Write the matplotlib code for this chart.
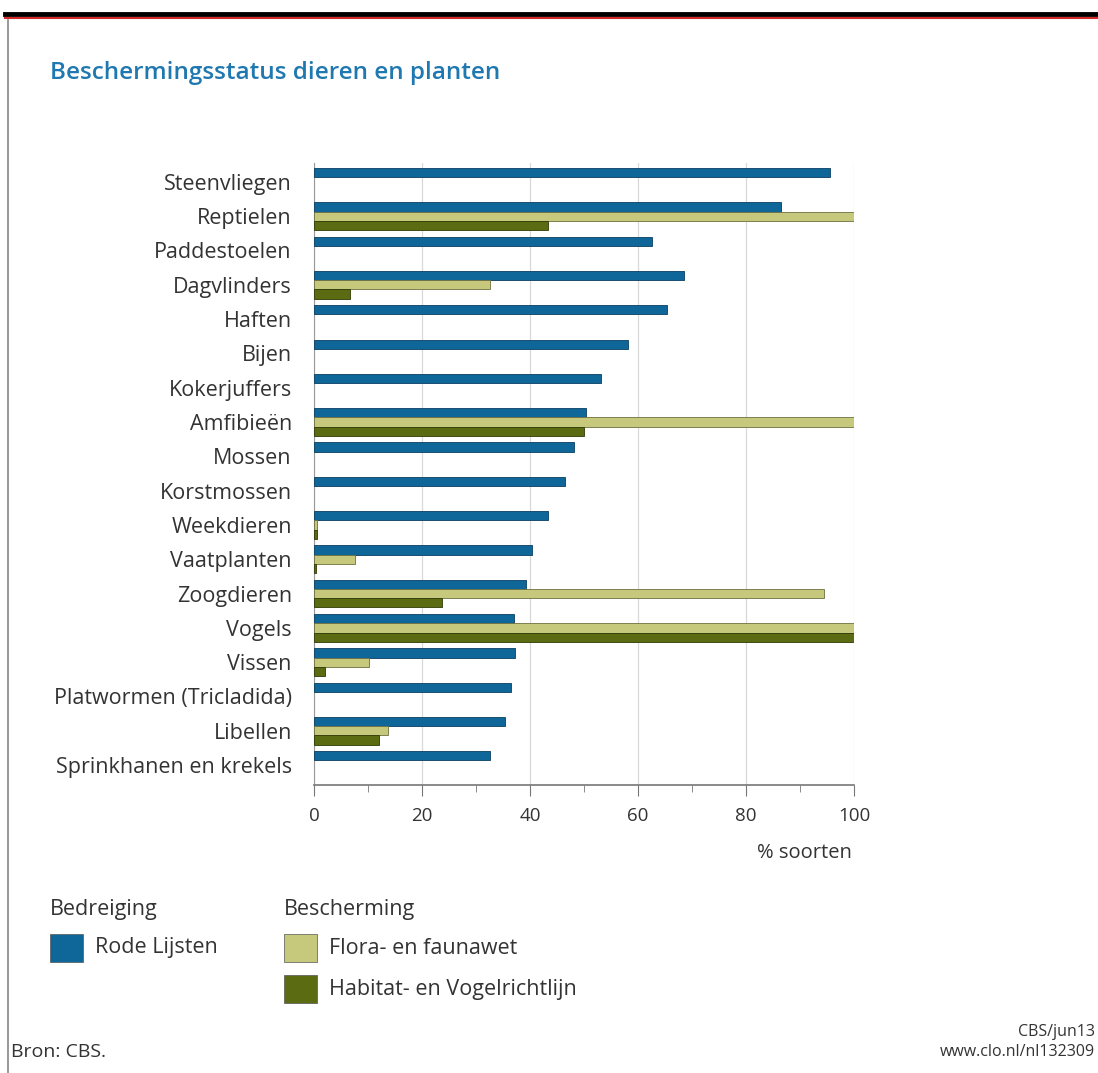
import numpy as np
import matplotlib.pyplot as plt
from matplotlib.patches import Rectangle
from matplotlib.lines import Line2D

categories = ["Steenvliegen", "Reptielen", "Paddestoelen", "Dagvlinders", "Haften",
              "Bijen", "Kokerjuffers", "Amfibieën", "Mossen", "Korstmossen",
              "Weekdieren", "Vaatplanten", "Zoogdieren", "Vogels", "Vissen",
              "Platwormen (Tricladida)", "Libellen", "Sprinkhanen en krekels"]
rode_lijsten = [95.5, 86.5, 62.5, 68.5, 65.3, 58.2, 53.2, 50.3, 48.2, 46.4,
                43.4, 40.4, 39.3, 37.1, 37.3, 36.4, 35.3, 32.5]
flora_fauna = [0, 100, 0, 32.5, 0, 0, 0, 100, 0, 0,
               0.5, 7.6, 94.5, 100, 10.2, 0, 13.7, 0]
habitat_vogel = [0, 43.4, 0, 6.7, 0, 0, 0, 50, 0, 0,
                 0.5, 0.3, 23.7, 100, 2, 0, 12, 0]

c_blue = "#0f6699"
c_light = "#c6c97c"
c_dark = "#5b6b12"
txt = "#333333"
fs = 15.5

plt.rcParams['font.family'] = ['Open Sans', 'DejaVu Sans']

W, H = 1098, 1073
fig = plt.figure(figsize=(W / 100, H / 100), dpi=100)

# frame lines at top and left
fig.add_artist(Line2D([5 / W, 1], [1 - 14 / H, 1 - 14 / H], color="black", lw=3.5))
fig.add_artist(Line2D([5 / W, 1], [1 - 18 / H, 1 - 18 / H], color="#d42a2a", lw=1.5))
fig.add_artist(Line2D([8 / W, 8 / W], [0, 1 - 20 / H], color="#888888", lw=1.2))

fig.text(50 / W, 1 - 73 / H, "Beschermingsstatus dieren en planten", color="#1f78b0",
         fontsize=17.5, va="center", ha="left", fontweight="semibold")

ax = fig.add_axes([314 / W, 1 - 785 / H, 540 / W, 622 / H])
y = np.arange(len(categories))
h = 0.27


def widths(vals):
    # no outline for empty bars
    return [0.6 if v > 0 else 0 for v in vals]


ax.barh(y - h, rode_lijsten, height=h, color=c_blue, edgecolor="#0a3f60",
        linewidth=widths(rode_lijsten), zorder=3)
ax.barh(y, flora_fauna, height=h, color=c_light, edgecolor="#6e7040",
        linewidth=widths(flora_fauna), zorder=3)
ax.barh(y + h, habitat_vogel, height=h, color=c_dark, edgecolor="#2f3a05",
        linewidth=widths(habitat_vogel), zorder=3)

ax.set_ylim(17.58, -0.55)
ax.set_xlim(0, 100)
ax.set_yticks(y)
ax.set_yticklabels(categories, fontsize=fs, color=txt)
ax.tick_params(axis="y", length=0, pad=16)
ax.set_xticks([0, 20, 40, 60, 80, 100])
ax.set_xticks([10, 30, 50, 70, 90], minor=True)
ax.tick_params(axis="x", which="major", length=8, color="#777777", labelsize=13.5,
               labelcolor=txt, pad=8)
ax.tick_params(axis="x", which="minor", length=5, color="#777777")
ax.grid(axis="x", color="#d8d8d8", lw=0.9, zorder=0)
for s in ["top", "right"]:
    ax.spines[s].set_visible(False)
ax.spines["left"].set_color("#999999")
ax.spines["bottom"].set_color("#777777")
ax.spines["bottom"].set_linewidth(1.2)

fig.text(852 / W, 1 - 853 / H, "% soorten", ha="right", va="center", fontsize=14.5, color=txt)

# legend
fig.text(50 / W, 1 - 910 / H, "Bedreiging", fontsize=fs, color=txt, va="center")
fig.text(284 / W, 1 - 910 / H, "Bescherming", fontsize=fs, color=txt, va="center")
items = [(50, 948, c_blue, "Rode Lijsten"),
         (284, 948, c_light, "Flora- en faunawet"),
         (284, 989, c_dark, "Habitat- en Vogelrichtlijn")]
for x0, yc, col, lab in items:
    fig.add_artist(Rectangle((x0 / W, 1 - (yc + 14) / H), 33 / W, 28 / H,
                             facecolor=col, edgecolor="#555555", lw=0.5,
                             transform=fig.transFigure))
    fig.text((x0 + 45) / W, 1 - yc / H, lab, fontsize=fs, color=txt, va="center")

fig.text(11 / W, 1 - 1052 / H, "Bron: CBS.", fontsize=14, color=txt, va="center")
fig.text(1095 / W, 1 - 1032 / H, "CBS/jun13", fontsize=11.5, color=txt,
         va="center", ha="right")
fig.text(1095 / W, 1 - 1052 / H, "www.clo.nl/nl132309", fontsize=11.5, color=txt,
         va="center", ha="right")

fig.savefig("out.png", dpi=100)
